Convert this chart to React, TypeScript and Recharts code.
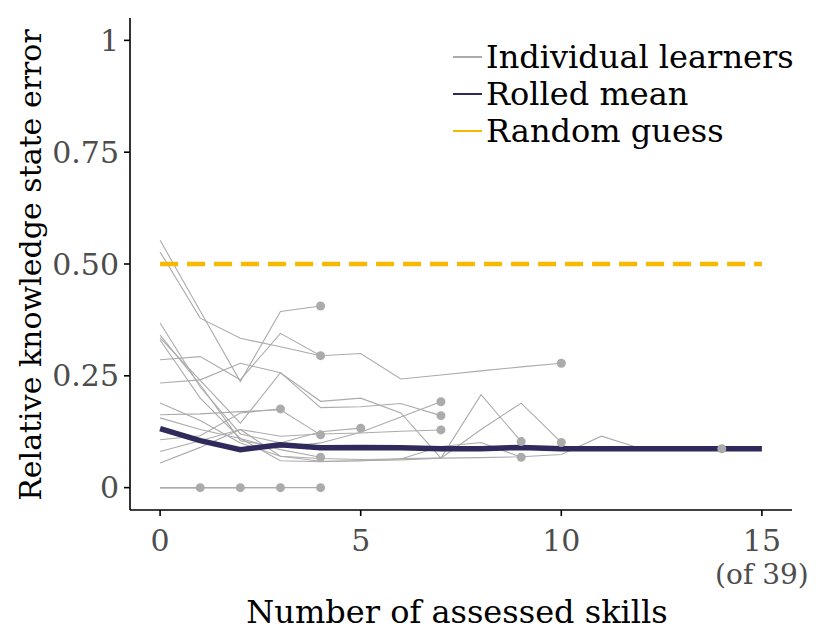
import { ComposedChart, Line, Scatter, XAxis, YAxis, Legend } from "recharts";

const xTicks = [0, 5, 10, 15];
const yTicks = [0, 0.25, 0.5, 0.75, 1];

// relative error per learner, index = number of assessed skills
const learnerErrors = [
  [0.553, 0.395, 0.237, 0.394, 0.406],
  [0.527, 0.379, 0.334, 0.315, 0.295],
  [0.286, 0.293, 0.241, 0.345, 0.295, 0.3, 0.243, 0.252, 0.261, 0.27, 0.278],
  [0.234, 0.241, 0.278, 0.257, 0.179, 0.181, 0.188, 0.161],
  [0.335, 0.24, 0.144, 0.257, 0.193, 0.2, 0.167, 0.066, 0.208, 0.103],
  [0.33, 0.2, 0.11, 0.085, 0.068],
  [0.368, 0.225, 0.12, 0.1, 0.125, 0.133],
  [0.341, 0.23, 0.105, 0.09, 0.1, 0.124, 0.158, 0.192],
  [0.107, 0.116, 0.167, 0.176],
  [0.163, 0.165, 0.17, 0.174, 0.118],
  [0.081, 0.105, 0.13, 0.115, 0.12, 0.122, 0.126, 0.129],
  [0, 0],
  [0, 0, 0],
  [0, 0, 0, 0],
  [0, 0, 0, 0, 0],
  [0.189, 0.15, 0.1, 0.07, 0.065, 0.063, 0.064, 0.092, 0.101, 0.068],
  [0.156, 0.13, 0.11, 0.06, 0.058, 0.06, 0.062, 0.066, 0.13, 0.189, 0.101],
  [0.055, 0.09, 0.13, 0.07, 0.059, 0.06, 0.065, 0.066, 0.067, 0.069, 0.074, 0.115, 0.087, 0.086, 0.087],
];

const rolledMean = [0.132, 0.105, 0.085, 0.096, 0.089, 0.09, 0.089, 0.087, 0.087, 0.09, 0.087, 0.087, 0.087, 0.087, 0.087, 0.087];

const guessX = [0, 15];
const guessY = [0.5, 0.5];

const toPoints = (vals: number[]) => vals.map((y, x) => ({ x, y }));
const learnerLines = learnerErrors.map(toPoints);
const endPoints = learnerErrors.map((vals) => ({ x: vals.length - 1, y: vals[vals.length - 1] }));
const meanLine = toPoints(rolledMean);
const guessLine = guessX.map((x, i) => ({ x, y: guessY[i] }));

const FONT = "DejaVu Serif";
const GREY = "#ababab";
const NAVY = "#2e2a5b";
const GOLD = "#f7b800";

function XTick({ x, y, payload }: any) {
  // last tick carries the total number of skills on a second line
  return (
    <g>
      <text x={x} y={y + 33} textAnchor="middle" fontSize={30} fontFamily={FONT} fill="#4d4d4d">
        {payload.value}
      </text>
      {payload.value === 15 && (
        <text x={x} y={y + 66} textAnchor="middle" fontSize={28} fontFamily={FONT} fill="#4d4d4d">
          (of 39)
        </text>
      )}
    </g>
  );
}

const legendItems = [
  { label: "Individual learners", color: GREY },
  { label: "Rolled mean", color: NAVY },
  { label: "Random guess", color: GOLD },
];

function LegendBox() {
  return (
    <div style={{ fontFamily: FONT, fontSize: 32, color: "#000" }}>
      {legendItems.map((item) => (
        <div key={item.label} style={{ display: "flex", alignItems: "center", height: 37, whiteSpace: "nowrap" }}>
          <div style={{ width: 29, height: 2, background: item.color }} />
          <span style={{ marginLeft: 4 }}>{item.label}</span>
        </div>
      ))}
    </div>
  );
}

export default function App() {
  return (
    <ComposedChart width={814} height={627} margin={{ top: 10, right: 30, left: 0, bottom: 0 }}>
      <XAxis
        type="number"
        dataKey="x"
        domain={[-0.75, 15.75]}
        ticks={xTicks}
        allowDataOverflow
        height={125}
        tickSize={6}
        tickMargin={2}
        tick={<XTick />}
        axisLine={{ stroke: "#000", strokeWidth: 1.6 }}
        tickLine={{ stroke: "#000", strokeWidth: 1.6 }}
        label={{
          content: () => (
            <text x={449} y={615} textAnchor="middle" fontSize={32} fontFamily={FONT} fill="#000">
              Number of assessed skills
            </text>
          ),
        }}
      />
      <YAxis
        type="number"
        dataKey="y"
        domain={[-0.05, 1.05]}
        ticks={yTicks}
        allowDataOverflow
        width={122}
        tickSize={6}
        tickMargin={5}
        tickFormatter={(v: number) => (v === 0 || v === 1 ? String(v) : v.toFixed(2))}
        tick={{ fontSize: 30, fontFamily: FONT, fill: "#4d4d4d" }}
        axisLine={{ stroke: "#000", strokeWidth: 1.6 }}
        tickLine={{ stroke: "#000", strokeWidth: 1.6 }}
        label={{
          content: () => (
            <text
              transform="translate(33,257) rotate(-90)"
              textAnchor="middle"
              fontSize={30}
              fontFamily={FONT}
              fill="#000"
            >
              Relative knowledge state error
            </text>
          ),
        }}
      />
      <Legend
        layout="vertical"
        align="center"
        verticalAlign="middle"
        content={() => <LegendBox />}
        wrapperStyle={{ top: 30, left: 445, width: 370 }}
      />
      {learnerLines.map((pts, i) => (
        <Line
          key={i}
          data={pts}
          dataKey="y"
          type="linear"
          stroke={GREY}
          strokeWidth={1.1}
          dot={false}
          activeDot={false}
          legendType="none"
          isAnimationActive={false}
        />
      ))}
      <Scatter
        data={endPoints}
        dataKey="y"
        fill={GREY}
        shape={(p: any) => <circle cx={p.cx} cy={p.cy} r={4.5} fill={GREY} />}
        isAnimationActive={false}
      />
      <Line
        data={guessLine}
        dataKey="y"
        type="linear"
        stroke={GOLD}
        strokeWidth={4.5}
        strokeDasharray="18 9"
        dot={false}
        activeDot={false}
        isAnimationActive={false}
      />
      <Line
        data={meanLine}
        dataKey="y"
        type="linear"
        stroke={NAVY}
        strokeWidth={5.5}
        dot={false}
        activeDot={false}
        isAnimationActive={false}
      />
    </ComposedChart>
  );
}
